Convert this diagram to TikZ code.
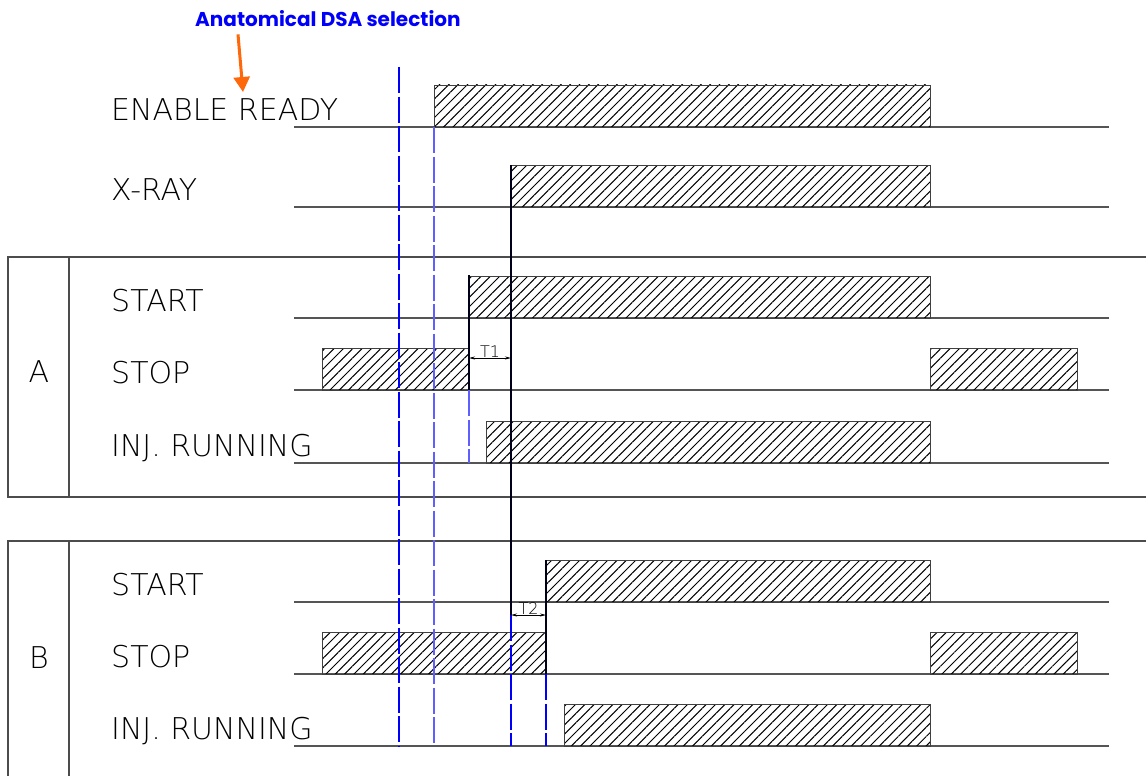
\documentclass[tikz,border=0pt]{standalone}
\usepackage{fontspec}
\setmainfont{DejaVu Sans}
\newfontfamily\cadfont{DejaVu Sans ExtraLight}
\newfontfamily\titlefont{Poppins}
\usetikzlibrary{arrows.meta,patterns.meta}
\usepackage{xcolor}
\definecolor{GuideBlue}{RGB}{0,0,250}
\definecolor{GuideLight}{RGB}{95,95,255}
\definecolor{NoteOrange}{RGB}{255,104,10}
\definecolor{LineGray}{RGB}{85,85,85}

\begin{document}
\begin{tikzpicture}[x=1pt,y=-1pt,sig/.style={draw=LineGray,line width=1.5pt},pulse/.style={draw=black!75,line width=0.9pt,pattern={Lines[angle=45,distance=6.6pt,line width=1pt]}},lbl/.style={anchor=base west,inner sep=0pt,font=\cadfont\fontsize{30}{30}\selectfont},edge/.style={draw=black!90!blue,line width=1.2pt},guide/.style={draw=GuideBlue,line width=1.2pt,dash pattern=on 26pt off 3.5pt},frame/.style={draw=black!70,line width=1.2pt},dim/.style={draw=black,line width=0.8pt,{Stealth[length=6pt,width=3pt]}-{Stealth[length=6pt,width=3pt]}},note/.style={draw=NoteOrange,line width=3pt,-{Triangle[length=15pt,width=16pt]}}]
\useasboundingbox (0,0) rectangle (1146,776);
% frames A and B
\draw[frame] (1146,257) -- (8,257) -- (8,497) -- (1146,497);
\draw[frame] (69,257) -- (69,497);
\draw[frame] (1146,541) -- (8,541) -- (8,776);
\draw[frame] (69,541) -- (69,776);
\node[lbl,anchor=base] (grpA) at (39,382) {A};
\node[lbl,anchor=base] (grpB) at (39,668) {B};
% signals
\foreach \y/\t in {127/ENABLE READY,207/X-RAY,318/START,390/STOP,463/INJ. RUNNING,602/START,674/STOP,746/INJ. RUNNING}{
  \draw[sig] (294,\y) -- (1109,\y);
  \node[lbl] (lbl\y) at (111,\y-7) {\t};
}
\foreach \a/\b/\y in {434/930/127,511/930/207,469/930/318,322/469/390,930/1077/390,486/930/463,546/930/602,322/546/674,930/1077/674,564/930/746}{
  \draw[pulse] (\a,\y) rectangle (\b,\y-42);
}
% guide lines
\draw[guide] (399,67) -- (399,746);
\draw[guide,draw=GuideLight] (434,127) -- (434,746);
\draw[guide,draw=GuideLight] (469,390) -- (469,463);
\draw[guide] (511,615) -- (511,746);
\draw[guide] (546,674) -- (546,746);
\draw[edge] (469,275) -- (469,390);
\draw[edge] (511,165) -- (511,615);
\draw[edge] (546,560) -- (546,674);
% delays
\coordinate (t1a) at (469,358);
\coordinate (t1b) at (511,358);
\coordinate (t2a) at (511,615);
\coordinate (t2b) at (546,615);
\draw[dim] (t1a) -- node[above,inner sep=0.5pt,font=\cadfont\fontsize{16}{16}\selectfont]{T1} (t1b);
\draw[dim] (t2a) -- node[above,inner sep=0.5pt,font=\cadfont\fontsize{16}{16}\selectfont]{T2} (t2b);
% annotation
\node[anchor=base west,inner sep=0pt,text=GuideBlue,font=\titlefont\bfseries\fontsize{20}{20}\selectfont] (title) at (195,27) {Anatomical DSA selection};
\coordinate (tip) at (243,92);
\draw[note] ([xshift=43pt,yshift=-7pt]title.south west) -- (tip);
\end{tikzpicture}
\end{document}
